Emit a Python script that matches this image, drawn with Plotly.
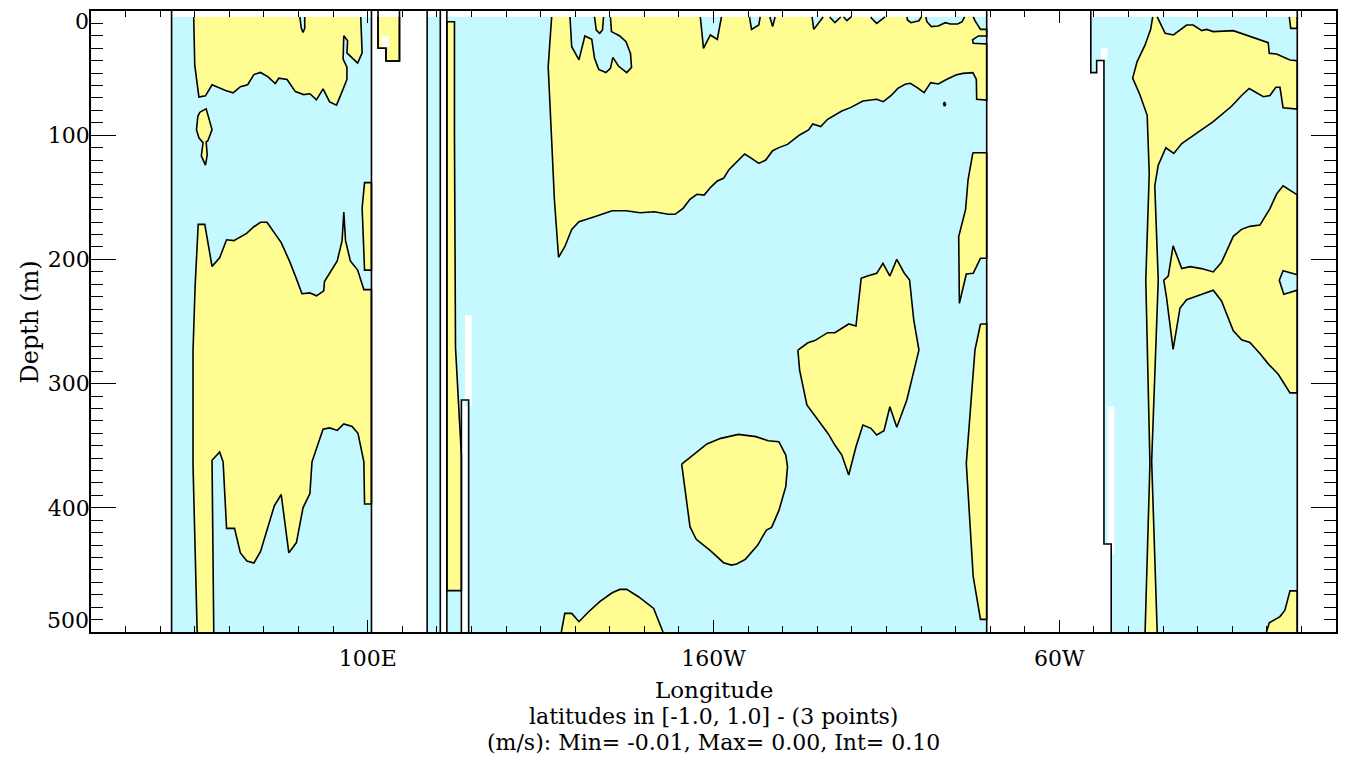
import plotly.graph_objects as go

# ---------------- data (longitude in degrees east, depth in metres) ----------------
TOP = 4.8      # first model level
BOT = 500.0    # deepest level shown

X_TICKS = [100, 200, 300]
X_TICKTEXT = ["100E", "160W", "60W"]
Y_TICKS = [0, 100, 200, 300, 400, 500]
Y_TICKTEXT = ["", "100", "200", "300", "400", ""]   # end labels are placed inside the frame (IDL style)

# ocean (valid data) areas, value < 0 background
OCEAN_INDIAN = [(43.3, TOP), (43.3, BOT), (101.1, BOT), (101.1, TOP)]
OCEAN_STRIP = [(117.2, TOP), (117.2, BOT), (121.0, BOT), (121.0, TOP)]
OCEAN_PACIFIC = [(122.9, TOP), (122.9, BOT), (279.0, BOT), (279.0, TOP)]
OCEAN_ATLANTIC = [(309.1, TOP), (309.1, 49.6), (310.8, 49.6), (310.8, 39.9), (312.9, 39.9),
                  (312.9, 429.2), (315.0, 429.2), (315.0, BOT), (368.8, BOT), (368.8, TOP)]
OCEAN_BOX_CYAN = [(106.1, 30.0), (106.1, 39.5), (108.7, 39.5), (108.7, 30.0)]

# positive-velocity regions (inside the zero contour)
IND_SURFACE = [(49.7, TOP), (50.0, 43.6), (51.2, 69.2), (53.1, 68.3), (55.0, 59.4), (58.9, 64.0),
               (61.1, 65.9), (63.2, 61.0), (65.3, 59.4), (67.1, 51.2), (69.0, 49.5), (71.1, 52.8),
               (73.3, 58.4), (74.3, 54.1), (76.7, 55.1), (79.1, 64.9), (81.5, 67.3), (83.3, 66.6),
               (85.2, 71.5), (87.1, 62.7), (89.0, 73.2), (91.0, 75.8), (92.6, 64.9), (94.0, 55.1),
               (94.0, 45.3), (92.9, 38.7), (93.1, 19.9), (94.2, 23.9), (94.0, 33.7), (97.1, 41.9),
               (98.4, 33.7), (98.0, TOP), (81.8, TOP), (81.8, 14.0), (81.3, 17.3), (80.8, 13.8),
               (80.4, TOP)]
IND_BLOB = [(51.5, 81.4), (53.3, 78.8), (55.0, 95.5), (53.8, 104.4), (53.3, 105.4), (53.6, 115.9),
            (53.1, 124.1), (51.9, 116.6), (52.4, 106.0), (51.2, 102.1), (50.5, 95.5), (50.9, 84.7)]
IND_DEEP = [(50.7, BOT), (49.5, 365.6), (49.5, 273.6), (50.1, 222.0), (51.0, 171.8), (52.9, 171.8),
            (55.0, 205.6), (57.2, 198.7), (59.2, 184.2), (61.3, 184.9), (65.0, 179.0), (67.1, 173.7),
            (69.0, 170.1), (70.9, 170.1), (75.0, 186.5), (77.5, 202.0), (79.6, 217.1), (81.0, 227.6),
            (83.3, 227.0), (85.2, 229.3), (87.3, 225.3), (87.5, 217.9), (91.2, 201.3), (92.6, 184.9),
            (93.1, 161.9), (93.6, 184.9), (95.0, 201.3), (97.1, 208.6), (98.9, 224.3), (101.1, 224.3),
            (101.1, 397.0), (99.1, 397.0), (98.9, 363.0), (97.2, 340.0), (95.5, 334.5), (93.1, 332.5),
            (91.2, 337.7), (89.0, 335.7), (87.1, 336.7), (83.9, 363.0), (83.3, 388.6), (81.3, 400.0),
            (79.4, 428.0), (77.2, 436.3), (75.0, 389.3), (73.0, 398.5), (69.0, 435.3), (67.1, 444.5),
            (65.1, 442.8), (63.2, 436.3), (61.5, 416.6), (59.2, 416.6), (58.2, 363.0), (57.2, 355.1),
            (55.0, 361.7), (55.5, BOT)]
IND_EAST = [(101.1, 138.2), (99.1, 138.2), (98.4, 158.6), (98.7, 181.6), (99.1, 208.6), (101.1, 208.6)]
BOX_YELLOW = [(103.0, TOP), (103.0, 30.0), (105.3, 30.0), (105.3, 40.3), (109.2, 40.3), (109.2, TOP)]

PAC_STRIP = [(122.9, 8.6), (125.1, 8.6), (125.1, 100.0), (125.4, 271.0), (127.1, 358.0),
             (127.1, 466.7), (122.9, 466.7)]
PAC_SURFACE = [(153.2, TOP), (152.6, 26.0), (152.2, 44.8), (153.2, 103.9), (154.0, 152.2), (155.2, 198.3),
               (157.0, 189.8), (159.0, 175.8), (161.1, 169.6), (165.6, 165.6), (170.7, 160.8),
               (174.7, 160.8), (178.8, 162.4), (182.9, 161.6), (186.9, 163.7), (188.9, 163.7),
               (191.2, 158.9), (193.2, 151.6), (195.2, 147.6), (197.3, 148.2), (199.1, 142.2),
               (201.1, 136.9), (202.9, 134.7), (204.4, 128.0), (206.7, 121.3), (209.0, 115.1),
               (211.0, 118.6), (213.1, 122.7), (215.1, 120.0), (217.1, 112.5), (218.9, 110.0),
               (221.4, 107.4), (224.9, 99.8), (227.5, 95.8), (228.7, 91.0), (231.0, 93.1), (233.0, 87.2),
               (237.1, 80.5), (239.6, 77.8), (241.2, 75.7), (243.2, 72.5), (247.2, 71.1), (249.1, 73.0),
               (251.3, 68.2), (253.3, 62.3), (255.4, 59.0), (256.9, 58.2), (258.9, 61.7), (260.9, 65.8),
               (262.8, 57.7), (265.0, 58.8), (267.5, 55.0), (270.1, 51.5), (272.1, 50.2), (275.0, 49.6),
               (276.0, 55.0), (276.1, 71.1), (279.0, 71.7), (279.0, 26.6), (275.1, 26.0), (274.9, 23.3),
               (276.6, 20.1), (279.0, 20.1), (279.0, 14.8), (277.2, 14.8), (275.6, 7.8), (275.1, TOP),
               (272.6, TOP), (271.9, 8.6), (270.6, 10.5), (268.5, 10.5), (267.0, 9.4), (265.0, 12.1),
               (263.0, 12.6), (261.7, 8.6), (261.4, TOP),
               (260.1, TOP), (259.4, 7.8), (257.1, 9.4), (256.1, 7.2), (255.9, TOP),
               (249.6, TOP), (247.2, 10.0), (245.7, 5.9), (245.5, TOP),
               (239.8, TOP), (238.6, 7.8), (237.6, TOP),
               (236.8, TOP), (235.1, 9.4), (233.6, TOP),
               (231.7, TOP), (229.0, 14.8), (228.5, TOP),
               (217.8, TOP), (217.1, 12.6), (216.3, TOP),
               (213.5, TOP), (213.1, 11.3), (211.0, 14.8), (210.4, TOP),
               (202.3, TOP), (201.1, 22.8), (199.1, 19.3), (197.1, 30.1), (196.2, TOP),
               (170.2, TOP), (170.5, 16.6), (172.9, 20.1), (174.7, 24.7), (176.0, 34.1), (176.3, 45.4),
               (174.9, 49.6), (172.5, 44.3), (170.9, 37.3), (170.2, 46.2), (168.9, 49.6), (166.8, 47.0),
               (165.6, 38.1), (164.8, 22.8), (162.8, 20.1), (161.1, 39.4), (159.0, 28.7), (158.5, TOP)]
PAC_TOOTH = [(165.6, TOP), (166.1, 15.3), (167.1, 18.0), (167.9, 15.3), (168.2, TOP)]
PAC_DOT = [(266.5, 75.0), (266.8, 73.3), (267.1, 75.0), (266.8, 76.7)]
PAC_EAST1 = [(275.0, 114.1), (279.0, 114.1), (279.0, 199.1), (277.2, 199.1), (275.1, 211.2),
             (273.1, 211.8), (271.1, 235.4), (270.9, 181.7), (272.9, 159.7), (273.6, 136.1)]
PAC_EAST2 = [(277.2, 252.0), (279.0, 252.0), (279.0, 489.8), (277.2, 489.8), (275.1, 455.5),
             (273.1, 364.2), (275.6, 273.0)]
PAC_BLOB_E = [(224.4, 273.0), (227.3, 267.1), (229.3, 265.4), (233.0, 259.0), (235.1, 259.0),
              (239.1, 252.0), (241.2, 253.6), (242.7, 215.2), (244.5, 213.4), (247.2, 211.2),
              (249.0, 203.2), (251.0, 213.4), (253.0, 200.0), (255.1, 210.7), (256.7, 216.6),
              (257.9, 248.8), (259.4, 273.0), (255.9, 313.2), (253.0, 335.2), (251.0, 318.6),
              (249.3, 337.9), (247.2, 341.4), (245.5, 336.0), (243.2, 333.4), (241.2, 350.8),
              (239.1, 373.6), (237.1, 357.5), (235.1, 349.5), (233.1, 340.1), (230.0, 328.0),
              (227.0, 317.2), (224.9, 289.1)]
PAC_BLOB_ROUND = [(190.8, 364.8), (194.0, 357.5), (198.1, 348.6), (202.1, 344.1), (207.2, 340.9),
                  (212.3, 342.7), (215.8, 346.0), (218.9, 346.8), (220.9, 357.5), (221.4, 366.9),
                  (220.9, 383.0), (218.9, 402.3), (216.8, 415.8), (215.3, 417.9), (212.8, 430.0),
                  (209.2, 441.5), (206.7, 445.3), (205.2, 446.1), (202.9, 444.2), (199.1, 434.5),
                  (195.0, 425.4), (193.2, 415.2), (192.0, 391.1)]
PAC_BOTTOM = [(156.0, BOT), (157.0, 485.0), (159.0, 485.0), (161.1, 491.7), (163.6, 484.5),
              (167.1, 475.6), (170.7, 468.4), (172.9, 465.7), (174.9, 465.7), (178.3, 471.6),
              (182.7, 481.0), (184.1, 490.4), (185.4, BOT)]

ATL_MAIN = [(324.8, BOT), (326.2, 364.2), (325.0, 216.8), (326.0, 130.7), (325.4, 84.0), (323.3, 67.4),
            (321.2, 54.0), (322.5, 40.7), (324.8, 27.3), (326.4, 14.7), (327.0, TOP), (328.3, TOP),
            (330.6, 18.0), (333.0, 19.3), (336.8, 11.3), (338.7, 11.3), (341.2, 15.8), (342.6, 14.8),
            (344.5, 16.6), (350.3, 15.8), (360.4, 25.5), (360.7, 34.1), (362.8, 34.6), (366.7, 39.4),
            (368.8, 40.0), (368.8, 79.0), (364.7, 78.0), (363.8, 61.4), (362.6, 61.4), (360.9, 68.0),
            (359.0, 69.0), (354.9, 62.4), (352.7, 68.0), (349.8, 76.7), (344.5, 89.0), (341.6, 94.7),
            (335.4, 106.7), (333.1, 114.7), (330.8, 110.1), (328.6, 124.1), (327.6, 140.7),
            (328.6, 216.8), (326.7, 362.5), (328.3, BOT)]
ATL_TOPRIGHT = [(366.5, TOP), (366.9, 14.0), (368.8, 14.0), (368.8, TOP)]
ATL_MID = [(368.8, 148.1), (364.7, 140.7), (362.8, 147.4), (360.9, 159.1), (358.0, 172.4), (355.1, 173.4),
           (352.7, 175.8), (350.3, 181.4), (346.9, 202.4), (344.5, 210.1), (341.1, 207.4), (337.8, 205.8),
           (335.4, 207.4), (332.9, 189.1), (331.5, 213.4), (330.2, 216.8), (331.0, 230.8), (332.9, 272.5),
           (334.9, 239.1), (336.8, 232.4), (339.2, 230.1), (341.1, 228.1), (344.5, 224.8), (346.9, 233.5),
           (350.3, 257.5), (352.7, 264.8), (355.1, 266.8), (358.0, 275.8), (360.4, 284.1), (363.3, 292.5),
           (366.7, 307.5), (368.8, 307.5), (368.8, 224.8), (364.9, 228.1), (363.6, 216.8), (364.7, 209.1),
           (368.8, 212.4)]
ATL_BOTTOM = [(359.9, BOT), (360.7, 492.6), (363.8, 487.6), (365.2, 482.6), (366.7, 466.9),
              (368.8, 466.9), (368.8, BOT)]

# missing values (blank, not outlined)
MISSING = [
    [(104.1, 20.1), (104.1, 29.0), (106.1, 29.0), (106.1, 20.1)],
    [(128.1, 245.0), (128.1, 318.0), (130.1, 318.0), (130.1, 245.0)],
    [(312.0, 30.1), (312.0, 39.5), (313.9, 39.5), (313.9, 30.1)],
    [(314.0, 318.5), (314.0, 437.6), (315.9, 437.6), (315.9, 318.5)],
]
# land inside the Pacific section (outlined)
PAC_LAND = [(127.1, BOT), (127.1, 313.2), (129.2, 313.2), (129.2, BOT)]

# coastline / land boundaries (open paths)
COASTS = [
    [(43.3, 0), (43.3, BOT)],
    [(101.1, 0), (101.1, BOT)],
    [(103.0, 0), (103.0, 30.0), (105.3, 30.0), (105.3, 40.3), (109.2, 40.3), (109.2, 0)],
    [(117.2, 0), (117.2, BOT)],
    [(121.0, 0), (121.0, BOT)],
    [(122.9, 0), (122.9, BOT)],
    [(127.1, BOT), (127.1, 313.2), (129.2, 313.2), (129.2, BOT)],
    [(279.0, 0), (279.0, BOT)],
    [(309.1, 0), (309.1, 49.6), (310.8, 49.6), (310.8, 39.9), (312.9, 39.9), (312.9, 429.2),
     (315.0, 429.2), (315.0, BOT)],
    [(368.8, 0), (368.8, BOT)],
]

POSITIVE = [IND_SURFACE, IND_BLOB, IND_DEEP, IND_EAST, BOX_YELLOW, PAC_STRIP, PAC_SURFACE, PAC_TOOTH,
            PAC_DOT, PAC_EAST1, PAC_EAST2, PAC_BLOB_E, PAC_BLOB_ROUND, PAC_BOTTOM, ATL_MAIN,
            ATL_TOPRIGHT, ATL_MID, ATL_BOTTOM]
OCEANS = [OCEAN_INDIAN, OCEAN_STRIP, OCEAN_PACIFIC, OCEAN_ATLANTIC, OCEAN_BOX_CYAN]

CYAN = "rgb(198,249,255)"
YELLOW = "rgb(255,252,145)"


def polys_xy(polys):
    xs, ys = [], []
    for p in polys:
        for lo, de in p:
            xs.append(lo)
            ys.append(de)
        xs.append(p[0][0])
        ys.append(p[0][1])
        xs.append(None)
        ys.append(None)
    return xs, ys


def contour_xy(polys):
    """Zero-contour outline of each region, leaving out the parts lying on the top / bottom levels."""
    xs, ys = [], []
    for p in polys:
        pts = list(p) + [p[0]]
        prev_drawn = False
        for a, b in zip(pts[:-1], pts[1:]):
            on_edge = (a[1] <= TOP and b[1] <= TOP) or (a[1] >= BOT and b[1] >= BOT)
            if on_edge:
                if prev_drawn:
                    xs.append(None)
                    ys.append(None)
                prev_drawn = False
                continue
            if not prev_drawn:
                xs.append(a[0])
                ys.append(a[1])
            xs.append(b[0])
            ys.append(b[1])
            prev_drawn = True
        xs.append(None)
        ys.append(None)
    return xs, ys


def paths_xy(paths):
    xs, ys = [], []
    for p in paths:
        for lo, de in p:
            xs.append(lo)
            ys.append(de)
        xs.append(None)
        ys.append(None)
    return xs, ys


fig = go.Figure()

ox, oy = polys_xy(OCEANS)
fig.add_trace(go.Scatter(x=ox, y=oy, mode="lines", fill="toself", fillcolor=CYAN,
                         line=dict(width=0, color=CYAN), hoverinfo="skip", showlegend=False))
px_, py_ = polys_xy(POSITIVE)
fig.add_trace(go.Scatter(x=px_, y=py_, mode="lines", fill="toself", fillcolor=YELLOW,
                         line=dict(width=0, color=YELLOW), hoverinfo="skip", showlegend=False))
mx, my = polys_xy(MISSING + [PAC_LAND])
fig.add_trace(go.Scatter(x=mx, y=my, mode="lines", fill="toself", fillcolor="white",
                         line=dict(width=0, color="white"), hoverinfo="skip", showlegend=False))
cx, cy = contour_xy(POSITIVE)
fig.add_trace(go.Scatter(x=cx, y=cy, mode="lines", line=dict(color="black", width=1.6),
                         hoverinfo="skip", showlegend=False))
lx, ly = paths_xy(COASTS)
fig.add_trace(go.Scatter(x=lx, y=ly, mode="lines", line=dict(color="black", width=1.6),
                         hoverinfo="skip", showlegend=False))

FONT = "DejaVu Serif"
TICKFONT = dict(family=FONT, size=22, color="black")

fig.update_xaxes(range=[20, 380], tickmode="array", tickvals=X_TICKS, ticktext=X_TICKTEXT,
                 ticks="inside", ticklen=12, tickwidth=1, tickcolor="black",
                 minor=dict(dtick=10, tick0=0, ticks="inside", ticklen=6, tickcolor="black", tickwidth=1),
                 showline=True, linecolor="black", linewidth=1.5, mirror="ticks",
                 showgrid=False, zeroline=False, ticklabelstandoff=6, automargin=False,
                 tickfont=TICKFONT)
fig.update_yaxes(range=[BOT, 0], tickmode="array", tickvals=Y_TICKS, ticktext=Y_TICKTEXT,
                 ticks="inside", ticklen=25, tickwidth=1, tickcolor="black",
                 minor=dict(dtick=10, tick0=0, ticks="inside", ticklen=12, tickcolor="black", tickwidth=1),
                 showline=True, linecolor="black", linewidth=1.5, mirror="ticks",
                 showgrid=False, zeroline=False, ticklabelstandoff=-5, automargin=False,
                 tickfont=TICKFONT)

annots = [
    dict(text="0", x=-0.001, y=0.983, xanchor="right", font=TICKFONT),
    dict(text="500", x=-0.001, y=0.018, xanchor="right", font=TICKFONT),
    dict(text="Depth (m)", x=-0.049, y=0.5, textangle=-90, font=dict(family=FONT, size=24, color="black")),
    dict(text="Longitude", x=0.5, y=-0.094, font=dict(family=FONT, size=23, color="black")),
    dict(text="latitudes in [-1.0, 1.0] - (3 points)", x=0.5, y=-0.136,
         font=dict(family=FONT, size=22, color="black")),
    dict(text="(m/s): Min= -0.01, Max= 0.00, Int= 0.10", x=0.5, y=-0.178,
         font=dict(family=FONT, size=22, color="black")),
]
for a in annots:
    a.setdefault("xanchor", "center")
    fig.add_annotation(xref="paper", yref="paper", showarrow=False, yanchor="middle", borderpad=0, **a)

# the page body adds an 8 px offset; the figure is sized so the frame lands at the reference place
fig.update_layout(width=1331, height=746, margin=dict(l=83, r=3, t=3, b=122),
                  paper_bgcolor="white", plot_bgcolor="white", showlegend=False)

fig.write_html("out.html")
